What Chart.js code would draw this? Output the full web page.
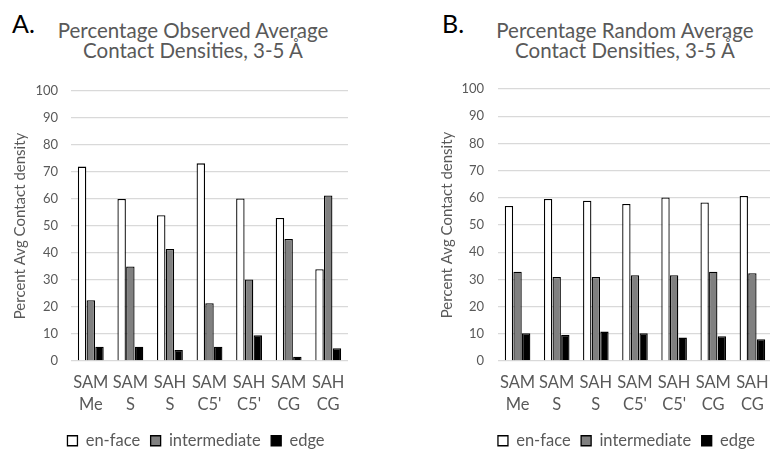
<!DOCTYPE html>
<html>
<head>
<meta charset="utf-8">
<script src="https://cdn.jsdelivr.net/npm/chart.js@4/dist/chart.umd.min.js"></script>
<style>
  html, body { margin: 0; padding: 0; background: #fff; }
  body { width: 770px; height: 451px; position: relative; overflow: hidden; font-family: Lato, "Liberation Sans", sans-serif; }
  .panel { position: absolute; color: #000; font-size: 25px; line-height: 25px; }
  .title { position: absolute; width: 320px; text-align: center; color: #595959; font-size: 20.5px; line-height: 20px; }
  canvas { position: absolute; }
</style>
</head>
<body>
<div class="panel" style="left:12px; top:11px;">A.</div>
<div class="panel" style="left:442px; top:11px;">B.</div>
<div class="title" style="left:33px; top:19.5px;">Percentage Observed Average<br>Contact Densities, 3-5 Å</div>
<div class="title" style="left:465px; top:19.5px;">Percentage Random Average<br>Contact Densities, 3-5 Å</div>
<div style="position:absolute;left:0;top:0;width:385px;height:459px;"><canvas id="chartA"></canvas></div>
<div style="position:absolute;left:420px;top:0;width:360px;height:459px;"><canvas id="chartB"></canvas></div>
<script>
const categories = [['SAM','Me'],['SAM','S'],['SAH','S'],['SAM',"C5'"],['SAH',"C5'"],['SAM','CG'],['SAH','CG']];
const seriesNames = ['en-face', 'intermediate', 'edge'];
const observedEnFace = [72, 60, 54, 73.2, 60.2, 53, 34];
const observedIntermediate = [22.5, 35, 41.5, 21.4, 30.2, 45.2, 61.3];
const observedEdge = [5.3, 5.3, 4.1, 5.3, 9.5, 1.6, 4.7];
const randomEnFace = [57, 59.6, 58.9, 57.7, 60.1, 58.3, 60.7];
const randomIntermediate = [32.8, 30.9, 30.9, 31.5, 31.5, 32.8, 32.3];
const randomEdge = [10.2, 9.6, 10.8, 10.2, 8.6, 9.1, 8.0];
const yTickValues = [0, 10, 20, 30, 40, 50, 60, 70, 80, 90, 100];
const yAxisTitle = 'Percent Avg Contact density';

const fills = ['#ffffff', '#808080', '#000000'];
const FONT = 'Lato, "Liberation Sans", sans-serif';
const GREY = '#595959';
const TICK_SIZE = 13;

// widest y tick label (used to right-align mirrored tick labels outside the plot)
const mctx = document.createElement('canvas').getContext('2d');
mctx.font = 'normal ' + TICK_SIZE + 'px ' + FONT;
const widestTick = Math.max(...yTickValues.map(v => mctx.measureText(String(v)).width));

function makeChart(id, values, cfg) {
  const datasets = values.map((v, i) => ({
    label: seriesNames[i],
    data: v,
    backgroundColor: fills[i],
    borderColor: '#000000',
    borderWidth: 1.3,
    categoryPercentage: 0.66,
    barPercentage: 0.97
  }));
  return new Chart(document.getElementById(id), {
    type: 'bar',
    data: { labels: categories, datasets },
    options: {
      responsive: true,
      maintainAspectRatio: false,
      animation: false,
      layout: { padding: { left: cfg.padLeft, right: cfg.padRight, top: cfg.padTop, bottom: 0 } },
      plugins: {
        title: { display: false },
        tooltip: { enabled: false },
        legend: {
          position: 'bottom',
          labels: {
            boxWidth: 10, boxHeight: 10, padding: 10.5,
            color: GREY,
            font: { family: FONT, size: 16.5 }
          }
        }
      },
      scales: {
        x: {
          grid: { display: false, drawTicks: false },
          border: { display: false },
          ticks: { color: GREY, padding: 11, maxRotation: 0, autoSkip: false,
                   font: { family: FONT, size: 16.5, lineHeight: 1.333 } },
          afterFit: (s) => { s.height = 61; }
        },
        y: {
          min: 0, max: 100,
          afterBuildTicks: (s) => { s.ticks = yTickValues.map(v => ({ value: v })); },
          grid: { color: '#d9d9d9', lineWidth: 1.3, drawTicks: false },
          border: { display: false },
          ticks: { color: GREY, mirror: true, crossAlign: 'far',
                   padding: -cfg.tickGap - widestTick,
                   font: { family: FONT, size: TICK_SIZE } },
          title: { display: true, text: yAxisTitle, color: GREY,
                   font: { family: FONT, size: 15 }, padding: { top: cfg.titlePad, bottom: 0 } },
          afterFit: (s) => { s.width = cfg.axisWidth; }
        }
      }
    }
  });
}

makeChart('chartA', [observedEnFace, observedIntermediate, observedEdge],
  { padLeft: 44, padRight: 37, padTop: 91, axisWidth: 27, tickGap: 13, titlePad: -33 });
makeChart('chartB', [randomEnFace, randomIntermediate, randomEdge],
  { padLeft: 58, padRight: 5, padTop: 89, axisWidth: 20, tickGap: 14, titlePad: -40 });
</script>
</body>
</html>
